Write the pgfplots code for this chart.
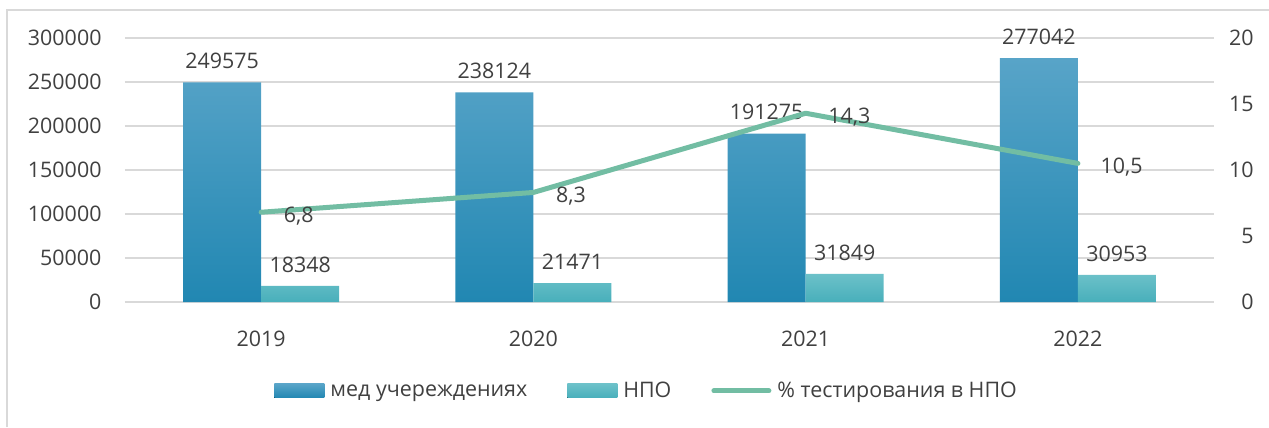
\documentclass[border=0pt]{standalone}
\usepackage{pgfplots}
\pgfplotsset{compat=1.18}
\usepackage{fontspec}
\setmainfont{Open Sans}
\definecolor{txt}{HTML}{404040}
\definecolor{gridc}{HTML}{D9D9D9}
\definecolor{b1top}{HTML}{58A4C8}
\definecolor{b1bot}{HTML}{2187B2}
\definecolor{b2top}{HTML}{6CC1C9}
\definecolor{b2bot}{HTML}{48AFBB}
\definecolor{ln}{HTML}{72BDA3}
\pgfplotsset{
  /pgf/number format/1000 sep={},
  /pgf/number format/fixed,
  /pgf/number format/precision=0,
  mylinelegend/.style={legend image code/.code={\draw[##1,line cap=round] (0bp,0bp) -- (55bp,0bp);}},
  mybarlegend/.style={legend image code/.code={\fill[##1] (0bp,-7bp) rectangle (50bp,7bp);}},
  common/.style={
    at={(0,0)}, anchor=south west,
    scale only axis, width=1089bp, height=264bp,
    xmin=-0.5, xmax=3.5,
    axis line style={draw=none},
    major tick length=0,
    font=\fontsize{21.5}{26}\selectfont,
    /pgf/number format/assume math mode=true,
    clip=false,
  },
}
\begin{document}
\begin{tikzpicture}[x=1bp,y=1bp,text=txt,font=\fontsize{21.5}{26}\selectfont]
\useasboundingbox (-125,-125) rectangle (1144,302);
\draw[gridc, line width=2bp] (-118,-125) -- (-118,292) -- (1144,292);
\begin{axis}[common,
  ymin=0, ymax=300000,
  ytick={0,50000,...,300000},
  scaled y ticks=false,
  ymajorgrids, grid style={gridc, line width=1.5bp},
  xtick={0,1,2,3}, xticklabels={2019,2020,2021,2022},
  xticklabel style={yshift=-25bp},
  yticklabel style={xshift=-20bp},
  ybar=0pt, bar width=78bp,
  nodes near coords,
  every node near coord/.append style={anchor=south, yshift=10bp, text=txt},
]
\addplot[draw=none, top color=b1top, bottom color=b1bot]
  coordinates {(0,249575) (1,238124) (2,191275) (3,277042)};
\addplot[draw=none, top color=b2top, bottom color=b2bot]
  coordinates {(0,18348) (1,21471) (2,31849) (3,30953)};
\end{axis}
\begin{axis}[common,
  ymin=0, ymax=20, ytick={0,5,...,20},
  axis y line*=right, axis x line=none,
  yticklabel style={anchor=east, xshift=43bp},
  legend columns=3,
  legend style={at={(0.479,-0.337)}, anchor=center, draw=none, fill=none,
    /tikz/every odd column/.append style={column sep=4bp},
    /tikz/every even column/.append style={column sep=38bp}},
]
\addlegendimage{mybarlegend, draw=none, top color=b1top, bottom color=b1bot}
\addlegendentry{мед учереждениях}
\addlegendimage{mybarlegend, draw=none, top color=b2top, bottom color=b2bot}
\addlegendentry{НПО}
\addlegendimage{mylinelegend, ln, line width=5bp}
\addlegendentry{\% тестирования в НПО}
\addplot[ln, line width=5bp, line cap=round, line join=round, forget plot,
  nodes near coords={\pgfmathprintnumber[fixed,fixed zerofill,precision=1,use comma]{\pgfplotspointmeta}},
  every node near coord/.append style={anchor=west, xshift=17bp, yshift=-4bp, text=txt}]
  coordinates {(0,6.8) (1,8.3) (2,14.3) (3,10.5)};
\end{axis}
\end{tikzpicture}
\end{document}
